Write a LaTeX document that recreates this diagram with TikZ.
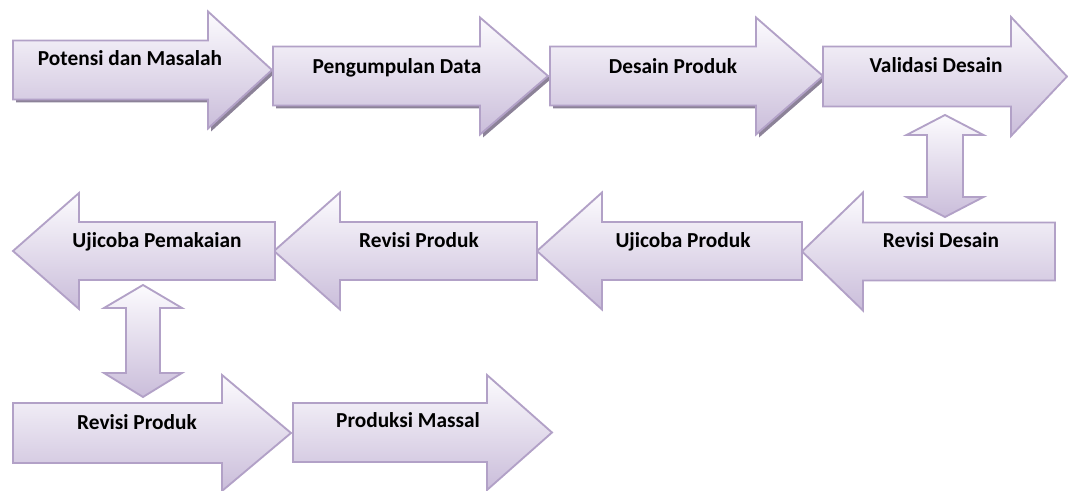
\documentclass[tikz,border=0pt]{standalone}
\usepackage{fontspec}
\setmainfont{Carlito}
\definecolor{lavline}{RGB}{178,161,199}
\definecolor{lavfill}{RGB}{202,189,218}
\definecolor{lavtop}{RGB}{252,251,254}
\definecolor{shadowc}{RGB}{140,130,152}
% block arrow: start x, centre y, half body, head base x, half head, tip x
\newcommand{\arrowpath}[6]{(#1,#2-#3) -- (#4,#2-#3) -- (#4,#2-#5) -- (#6,#2)
  -- (#4,#2+#5) -- (#4,#2+#3) -- (#1,#2+#3) -- cycle}
% up-down arrow: centre x, half shaft, half head, top tip, top base, bottom base, bottom tip
\newcommand{\updownpath}[7]{(#1,#4) -- (#1+#3,#5) -- (#1+#2,#5) -- (#1+#2,#6)
  -- (#1+#3,#6) -- (#1,#7) -- (#1-#3,#6) -- (#1-#2,#6) -- (#1-#2,#5) -- (#1-#3,#5) -- cycle}
\tikzset{
  arrowbox/.style={draw=lavline, line width=1.4pt, line join=miter,
    top color=lavtop, bottom color=lavfill},
  arrowshadow/.style={fill=shadowc, shift={(3,3)}},
  lbl/.style={anchor=base, inner sep=0pt, font=\fontsize{16pt}{19pt}\selectfont\bfseries}
}
\begin{document}
\begin{tikzpicture}[x=0.75pt, y=-0.75pt]
  \useasboundingbox (0,0) rectangle (1068,491);
  % first row
  \fill[arrowshadow] \arrowpath{13}{70}{29.5}{208}{58.5}{272};
  \shadedraw[arrowbox] \arrowpath{13}{70}{29.5}{208}{58.5}{272};
  \fill[arrowshadow] \arrowpath{273}{76}{29.5}{480}{58.5}{548};
  \shadedraw[arrowbox] \arrowpath{273}{76}{29.5}{480}{58.5}{548};
  \fill[arrowshadow] \arrowpath{550}{76}{29.5}{756}{58.5}{823};
  \shadedraw[arrowbox] \arrowpath{550}{76}{29.5}{756}{58.5}{823};
  \shadedraw[arrowbox] \arrowpath{823}{76.5}{30}{1011}{59.5}{1067};
  \node[lbl] (potensi) at (130,66) {Potensi dan Masalah};
  \node[lbl] (pengumpulan) at (397,74) {Pengumpulan Data};
  \node[lbl] (desain) at (673,74) {Desain Produk};
  \node[lbl] (validasi) at (936,73) {Validasi Desain};
  % link between rows
  \shadedraw[arrowbox] \updownpath{945}{18}{38.5}{115}{135}{197}{217};
  % second row
  \shadedraw[arrowbox] \arrowpath{1055}{251.5}{29}{863}{59}{802};
  \shadedraw[arrowbox] \arrowpath{802}{251}{29}{602}{58.5}{537};
  \shadedraw[arrowbox] \arrowpath{537}{251}{29}{340}{58.5}{274};
  \shadedraw[arrowbox] \arrowpath{275}{251}{29}{79}{58}{13};
  \node[lbl] (revdesain) at (941,248) {Revisi Desain};
  \node[lbl] (ujiproduk) at (683,248) {Ujicoba Produk};
  \node[lbl] (revproduk) at (419,248) {Revisi Produk};
  \node[lbl] (ujipakai) at (157,248) {Ujicoba Pemakaian};
  \shadedraw[arrowbox] \updownpath{143}{17}{39}{285}{308}{373}{397};
  % third row
  \shadedraw[arrowbox] \arrowpath{13}{433}{30}{222}{58}{291};
  \shadedraw[arrowbox] \arrowpath{293}{432.5}{29.5}{487}{57.5}{552};
  \node[lbl] (revproduk2) at (137,430) {Revisi Produk};
  \node[lbl] (massal) at (408,428) {Produksi Massal};
\end{tikzpicture}
\end{document}
